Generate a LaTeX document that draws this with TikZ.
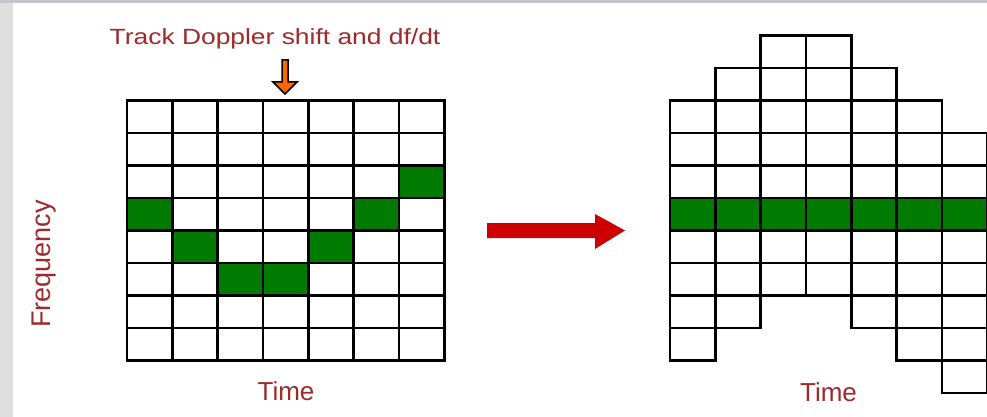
\documentclass[tikz,border=0pt]{standalone}
\usepackage{fontspec}
\setmainfont{Liberation Sans}
\usepackage{xcolor}
\usepackage{graphicx}
\usepackage{tikz}
\definecolor{labelred}{RGB}{158, 42, 43}
\definecolor{cellgreen}{RGB}{0, 122, 0}
\definecolor{pointer}{RGB}{255, 102, 0}
\definecolor{shiftred}{RGB}{204, 0, 0}
\definecolor{sidebar}{RGB}{222, 222, 222}
\definecolor{topbar}{RGB}{196, 196, 206}

\begin{document}
\begin{tikzpicture}[x=1pt,y=-1pt,
  cell/.style={draw=black,line width=2.7pt},
  label/.style={text=labelred,inner sep=0pt,anchor=base}]
\useasboundingbox (0,0) rectangle (987,417);
\fill[white] (0,0) rectangle (987,417);
\fill[sidebar] (0,0) rectangle (13,417);
\fill[topbar] (0,0) rectangle (987,3);
% measured grid (left)
\foreach \i/\j in {6/2,0/3,5/3,1/4,4/4,2/5,3/5}
  \fill[cellgreen] (127+45.33*\i,100.5+32.5*\j) rectangle ++(45.33,32.5);
\foreach \i in {0,...,6}
  \foreach \j in {0,...,7}
    \draw[cell] (127+45.33*\i,100.5+32.5*\j) rectangle ++(45.33,32.5);
% aligned grid (right)
\fill[cellgreen] (670,198) rectangle ++(317.3,32.5);
\foreach \i/\t in {0/2,1/1,2/0,3/0,4/1,5/2,6/3}
  \foreach \j in {0,...,7}
    \draw[cell] (670+45.33*\i,35.5+32.5*\t+32.5*\j) rectangle ++(45.33,32.5);
\draw[fill=pointer,draw=black,line width=1.5pt,line join=miter]
  (282,60) -- (288,60) -- (288,82) -- (297,82) -- (285,94) -- (273,82) -- (282,82) -- cycle;
\fill[shiftred] (487,223) -- (595,223) -- (595,214) -- (625,230.5) -- (595,249) -- (595,238) -- (487,238) -- cycle;
\node[label] (track) at (275,45) {\fontsize{22}{26}\selectfont\scalebox{1.2}[1]{Track Doppler shift and df/dt}};
\node[label,font=\fontsize{26}{30}\selectfont] (timeleft) at (286,400) {Time};
\node[label,font=\fontsize{26}{30}\selectfont] (timeright) at (828.5,401) {Time};
\node[label,rotate=90,font=\fontsize{27}{30}\selectfont] (freq) at (50,264) {Frequency};
\end{tikzpicture}
\end{document}
